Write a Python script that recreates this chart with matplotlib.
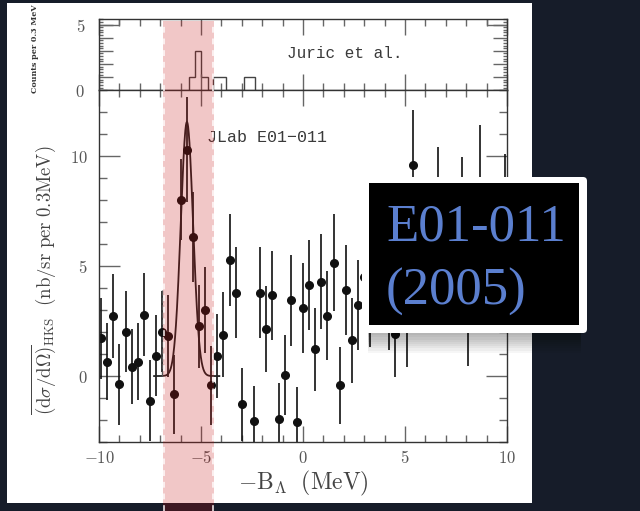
import numpy as np
import matplotlib
matplotlib.use("Agg")
import matplotlib.pyplot as plt
from matplotlib.patches import Rectangle, FancyBboxPatch
from matplotlib.lines import Line2D
from matplotlib.ticker import MultipleLocator, FixedLocator, FuncFormatter

plt.rcParams["mathtext.fontset"] = "cm"

# JLab E01-011 cross section (per 0.3 MeV bin)
cs_x = [-9.9, -9.6, -9.3, -9.0, -8.7, -8.4, -8.1, -7.8, -7.5, -7.2,
        -6.9, -6.6, -6.3, -6.0, -5.7, -5.4, -5.1, -4.8, -4.5, -4.2,
        -3.9, -3.6, -3.3, -3.0, -2.4, -2.1, -1.8, -1.5, -1.2, -0.9,
        -0.6, -0.3, 0.0, 0.3, 0.6, 0.9, 1.2, 1.5, 1.8, 2.1,
        2.4, 2.7, 3.0, 3.3, 3.6, 3.9, 4.2, 4.5, 4.8, 5.1,
        5.4, 5.7, 6.0, 6.3, 6.6, 6.9, 7.2, 7.5, 7.8, 8.1,
        8.4, 8.7, 9.0, 9.3, 9.6, 9.9]
cs_y = [1.71, 0.65, 2.74, -0.38, 2.02, 0.42, 0.65, 2.80, -1.12, 0.92,
        2.02, 1.82, -0.82, 8.03, 10.30, 6.32, 2.26, 3.00, -0.42, 0.92,
        1.89, 5.27, 3.80, -1.29, -2.05, 3.80, 2.15, 3.68, -1.97, 0.05,
        3.44, -2.08, 3.11, 4.14, 1.21, 4.30, 2.74, 5.15, -0.42, 3.91,
        1.62, 3.23, 4.5, 3.2, 5.5, 4.0, 3.2, 1.92, 5.0, 2.5,
        9.6, 6.0, 4.5, 5.5, 8.2, 5.0, 4.5, 6.0, 7.8, 2.5,
        5.5, 8.7, 5.0, 4.0, 5.5, 8.0]
cs_err = [1.85, 1.75, 1.9, 1.85, 1.85, 1.7, 1.75, 1.9, 1.85, 1.85,
          1.85, 1.85, 1.8, 1.86, 2.4, 2.05, 1.9, 1.95, 1.8, 1.9,
          1.93, 2.1, 2.05, 1.67, 1.6, 2.05, 1.95, 2.03, 1.64, 1.8,
          2.07, 1.6, 2.05, 2.06, 1.9, 2.15, 2.02, 2.2, 1.76, 2.05,
          1.93, 2.05, 1.9, 1.9, 2.0, 1.9, 2.0, 1.95, 2.0, 2.1,
          2.5, 2.1, 2.0, 2.0, 2.2, 2.0, 2.0, 2.1, 2.15, 2.05,
          2.1, 2.7, 2.0, 2.0, 2.1, 2.1]

# peak fit
fit_center = -5.69
fit_amp = 11.56
fit_sigma = 0.30
fit_range = [-7.3, -4.1]

# Juric et al. emulsion histogram
juric_edges = [-5.61, -5.28, -5.0, -4.68, -4.43, -3.77, -2.91, -2.33]
juric_counts = [1, 3, 1, 0, 1, 0, 1]
corner_edges = [(-10, -9), (9, 10)]
corner_inner = [-9, 9]
corner_level = 5

W, H = 640, 511
fig = plt.figure(figsize=(6.4, 5.11), dpi=100)
fig.patch.set_facecolor("#161c29")


def px_rect(x0, y0, x1, y1, **kw):
    # pixel box (top-left origin) -> inches box
    return Rectangle((x0 / 100, (H - y1) / 100), (x1 - x0) / 100, (y1 - y0) / 100,
                     transform=fig.dpi_scale_trans, **kw)


fig.add_artist(px_rect(7, 3, 532, 503, facecolor="white", edgecolor="none", zorder=-5))

axl, axr = 99, 507
ax_top = fig.add_axes([axl / W, 1 - 90.3 / H, (axr - axl) / W, (90.3 - 19.3) / H])
ax = fig.add_axes([axl / W, 1 - 442 / H, (axr - axl) / W, (442 - 90.3) / H])

tick_fmt = FuncFormatter(lambda v, p: f"${v:g}$")
for a in (ax_top, ax):
    a.set_facecolor("white")
    a.set_xlim(-10, 10)
    for s in a.spines.values():
        s.set_color("#333333")
        s.set_linewidth(1.0)
    a.xaxis.set_major_locator(MultipleLocator(5))
    a.xaxis.set_minor_locator(MultipleLocator(1))
    a.tick_params(which="both", direction="in", top=True, right=True,
                  color="#666666", width=1.0, labelcolor="#555555", labelsize=12)
    a.tick_params(axis="x", which="major", length=11.5)
    a.tick_params(axis="x", which="minor", length=5)

# top panel
ax_top.set_ylim(0, 5.4)
ax_top.stairs(juric_counts, juric_edges, color="#444444", lw=1.0)
for x0, x1 in corner_edges:
    ax_top.hlines(corner_level, x0, x1, color="#666666", lw=1.0)
ax_top.vlines(corner_inner, corner_level, 5.4, color="#666666", lw=1.0)
ax_top.yaxis.set_major_locator(MultipleLocator(1))
ax_top.yaxis.set_minor_locator(MultipleLocator(0.2))
ax_top.yaxis.set_major_formatter(FuncFormatter(lambda v, p: f"${v:g}$" if v in (0, 5) else ""))
ax_top.tick_params(axis="y", which="major", length=10, pad=10)
ax_top.tick_params(axis="y", which="minor", length=3)
ax_top.tick_params(axis="x", labelbottom=False)
ax_top.text(0.461, 0.525, "Juric et al.", transform=ax_top.transAxes, ha="left", va="center",
            family=["Liberation Mono", "DejaVu Sans Mono"], fontsize=11.5, color="#3a3a3a")
ax_top.text(-0.157, 0.58, "Counts per 0.3 MeV", transform=ax_top.transAxes, rotation=90,
            ha="center", va="center", family="DejaVu Serif", fontweight="bold",
            fontsize=5.8, color="#333333")

# bottom panel
ax.errorbar(cs_x, cs_y, yerr=cs_err, fmt="o", color="#111111", ms=5.5,
            elinewidth=1.2, capsize=0)
fx_ = np.linspace(fit_range[0], fit_range[1], 300)
ax.plot(fx_, fit_amp * np.exp(-0.5 * ((fx_ - fit_center) / fit_sigma) ** 2),
        color="#222222", lw=1.3)
ax.vlines(fit_range[0] + 0.4, 0, 3.9, colors="#555555", linestyles="--", lw=1.0)
ax.set_ylim(-3, 13)
ax.yaxis.set_major_locator(MultipleLocator(5))
ax.yaxis.set_minor_locator(MultipleLocator(1))
ax.tick_params(axis="y", which="major", length=15, pad=8)
ax.tick_params(axis="y", which="minor", length=5.5)
ax.tick_params(axis="x", which="major", pad=5)
ax.xaxis.set_major_formatter(tick_fmt)
ax.yaxis.set_major_formatter(tick_fmt)

ax.text(0.265, 0.867, "JLab E01\u2212011", transform=ax.transAxes, ha="left", va="center",
        family=["Liberation Mono", "DejaVu Sans Mono"], fontsize=12, color="#3a3a3a")
ax.text(0.5, -0.117, r"$-\mathrm{B}_{\Lambda}\ \ (\mathrm{MeV})$", transform=ax.transAxes,
        ha="center", va="center", fontsize=17, color="#444444")
ax.text(-0.137, 0.46,
        r"$\overline{(\mathrm{d}\sigma/\mathrm{d}\Omega)}_{\mathrm{HKS}}\ \ (\mathrm{nb/sr\ per\ 0.3MeV})$",
        transform=ax.transAxes, rotation=90, ha="center", va="center",
        fontsize=13.5, color="#444444")

# highlighted band
band_x0, band_x1 = 163, 214
fig.add_artist(px_rect(band_x0, 21, band_x1, 511, facecolor=(0.77, 0.05, 0.05),
                       alpha=0.23, edgecolor="none", zorder=10))
for bx in (band_x0 + 0.5, band_x1 - 0.5):
    fig.add_artist(Line2D([bx / 100, bx / 100], [0, (H - 21) / 100], transform=fig.dpi_scale_trans,
                          color="white", alpha=0.75, lw=1.4, ls=(0, (3, 3)), zorder=11))

# label box with shadow
for i in range(10):
    fig.add_artist(px_rect(368, 190 + i * 2, 581, 333 + i * 2.2, facecolor="black",
                           alpha=0.035, edgecolor="none", zorder=19))
fig.add_artist(FancyBboxPatch((362 / 100, (H - 333) / 100), 225 / 100, 156 / 100,
                              boxstyle="round,pad=0,rounding_size=0.04",
                              transform=fig.dpi_scale_trans, facecolor="white",
                              edgecolor="none", zorder=20))
fig.add_artist(px_rect(369, 183, 579, 325, facecolor="black", edgecolor="none", zorder=21))
for txt, base in (("E01-011", 240), ("(2005)", 305)):
    fig.text(386 / 100, (H - base) / 100, txt, transform=fig.dpi_scale_trans,
             ha="left", va="baseline", family="Liberation Serif", fontsize=38,
             color="#5b7fcf", zorder=22)

fig.savefig("out.png", dpi=100, facecolor=fig.get_facecolor())
